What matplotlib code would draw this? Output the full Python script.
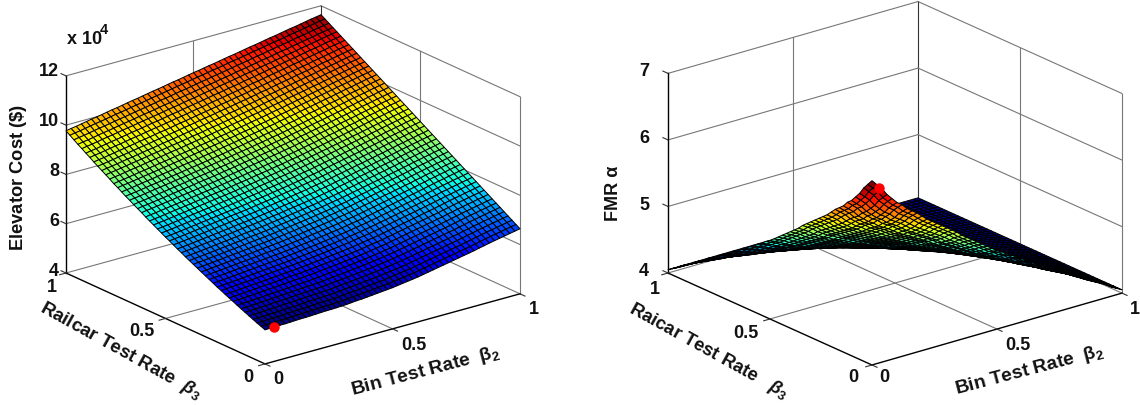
import numpy as np
import matplotlib
matplotlib.use('Agg')
import matplotlib.pyplot as plt
from mpl_toolkits.mplot3d import proj3d

# Values. Each surface is rebuilt from profiles along its mesh lines
rate_ticks = [0, 0.5, 1]
rate_tick_labels = ['0', '0.5', '1']
cost_ticks = [4, 6, 8, 10, 12]
fmr_ticks = [4, 5, 6, 7]

# mesh positions of both test rates (51 mesh lines)
bin_rate = [0.00, 0.02, 0.04, 0.06, 0.08, 0.10, 0.12, 0.14, 0.16, 0.18, 0.20, 0.22, 0.24,
            0.26, 0.28, 0.30, 0.32, 0.34, 0.36, 0.38, 0.40, 0.42, 0.44, 0.46, 0.48, 0.50,
            0.52, 0.54, 0.56, 0.58, 0.60, 0.62, 0.64, 0.66, 0.68, 0.70, 0.72, 0.74, 0.76,
            0.78, 0.80, 0.82, 0.84, 0.86, 0.88, 0.90, 0.92, 0.94, 0.96, 0.98, 1.00]
rail_rate = list(bin_rate)

# cost (x 10^4) on the four edges of the surface
cost_rail0 = [5.38, 5.39, 5.39, 5.40, 5.40, 5.41, 5.42, 5.43, 5.43, 5.44, 5.45, 5.46, 5.47,
              5.47, 5.48, 5.49, 5.50, 5.52, 5.54, 5.55, 5.57, 5.59, 5.61, 5.63, 5.65, 5.67,
              5.70, 5.73, 5.76, 5.79, 5.82, 5.86, 5.90, 5.94, 5.98, 6.02, 6.06, 6.10, 6.14,
              6.18, 6.22, 6.26, 6.31, 6.35, 6.40, 6.44, 6.48, 6.52, 6.56, 6.60, 6.64]
cost_rail1 = [9.77, 9.81, 9.84, 9.88, 9.92, 9.96, 9.99, 10.03, 10.07, 10.11, 10.14, 10.18, 10.22,
              10.26, 10.29, 10.33, 10.37, 10.41, 10.44, 10.48, 10.52, 10.56, 10.59, 10.63, 10.67,
              10.71, 10.74, 10.78, 10.82, 10.85, 10.89, 10.93, 10.97, 11.00, 11.04, 11.08, 11.12,
              11.15, 11.19, 11.23, 11.27, 11.30, 11.34, 11.38, 11.42, 11.45, 11.49, 11.53, 11.57,
              11.60, 11.64]
cost_bin0 = [5.38, 5.45, 5.51, 5.58, 5.65, 5.72, 5.79, 5.86, 5.94, 6.01, 6.08, 6.16, 6.23, 6.31,
             6.39, 6.47, 6.55, 6.63, 6.71, 6.79, 6.87, 6.96, 7.04, 7.13, 7.22, 7.30, 7.39, 7.48,
             7.57, 7.66, 7.75, 7.85, 7.94, 8.03, 8.13, 8.22, 8.32, 8.42, 8.51, 8.62, 8.72, 8.82,
             8.92, 9.02, 9.13, 9.23, 9.34, 9.44, 9.55, 9.66, 9.77]
cost_bin1 = [6.64, 6.74, 6.84, 6.94, 7.04, 7.14, 7.24, 7.34, 7.44, 7.54, 7.64, 7.74, 7.84, 7.94,
             8.04, 8.14, 8.24, 8.34, 8.44, 8.54, 8.64, 8.74, 8.84, 8.94, 9.04, 9.14, 9.24, 9.34,
             9.44, 9.54, 9.64, 9.74, 9.84, 9.94, 10.04, 10.14, 10.24, 10.34, 10.44, 10.54, 10.64,
             10.74, 10.84, 10.94, 11.04, 11.14, 11.24, 11.34, 11.44, 11.54, 11.64]

# FMR: height above the base, as a share of the peak, along each edge
fmr_base = 4.05
fmr_peak = 6.77
fmr_bin_edge = [1.00, 0.97, 0.94, 0.90, 0.87, 0.84, 0.82, 0.79, 0.77, 0.75, 0.725, 0.70, 0.68,
                0.66, 0.64, 0.62, 0.60, 0.58, 0.555, 0.535, 0.515, 0.495, 0.475, 0.455, 0.435,
                0.415, 0.40, 0.38, 0.365, 0.345, 0.33, 0.31, 0.295, 0.275, 0.26, 0.24, 0.225,
                0.21, 0.19, 0.175, 0.16, 0.145, 0.13, 0.11, 0.095, 0.08, 0.065, 0.05, 0.03,
                0.015, 0.00]
fmr_rail_edge = list(fmr_bin_edge)

# red points (bin rate, railcar rate, value)
cost_point = (0.035, 0.0, 5.39)
fmr_point = (0.03, 0.0, 6.63)

W, H = 1140, 405
plt.rcParams['font.family'] = ['Liberation Sans', 'DejaVu Sans']
plt.rcParams['font.weight'] = 'bold'
plt.rcParams['mathtext.fontset'] = 'custom'
plt.rcParams['mathtext.rm'] = 'Liberation Sans:bold'
plt.rcParams['mathtext.it'] = 'Liberation Sans:italic:bold'
plt.rcParams['mathtext.bf'] = 'Liberation Sans:bold'

fig = plt.figure(figsize=(W / 100, H / 100), dpi=100)


def px_text(x, y, s, **kw):
    kw.setdefault('ha', 'center')
    kw.setdefault('va', 'center')
    kw.setdefault('color', '#111111')
    fig.text(x / W, 1 - y / H, s, **kw)


def corner_px(ax, x, y, z):
    xp, yp, _ = proj3d.proj_transform(x, y, z, ax.get_proj())
    ax.apply_aspect()
    return ax.transData.transform((xp, yp))


def fit_axes(ax, zmin, target_left, target_right):
    # scale and move the square axes until the floor corners land on the target pixels
    size = 500
    ax.set_position([0.2, 0.2, size / W, size / H])
    a = corner_px(ax, 0, 1, zmin)
    b = corner_px(ax, 1, 0, zmin)
    size = size * (target_right[0] - target_left[0]) / (b[0] - a[0])
    ax.set_position([0.2, 0.2, size / W, size / H])
    a = corner_px(ax, 0, 1, zmin)
    x0 = 0.2 * W + target_left[0] - a[0]
    y0 = 0.2 * H + (H - target_left[1]) - a[1]
    ax.set_position([x0 / W, y0 / H, size / W, size / H])


def draw_box(ax, zlo, zhi, zticks):
    grey = '#777777'
    lw = 0.8
    z_all = [zlo, zhi]
    # back walls and grid
    ax.plot([0, 1], [1, 1], [zhi, zhi], color=grey, lw=lw, zorder=1)
    ax.plot([1, 1], [1, 0], [zhi, zhi], color=grey, lw=lw, zorder=1)
    ax.plot([1, 1], [1, 1], z_all, color='#333333', lw=lw, zorder=1)
    ax.plot([1, 1], [0, 0], z_all, color=grey, lw=lw, zorder=1)
    ax.plot([0, 1], [1, 1], [zlo, zlo], color=grey, lw=lw, zorder=1)
    ax.plot([1, 1], [1, 0], [zlo, zlo], color=grey, lw=lw, zorder=1)
    for z in zticks[1:-1]:
        ax.plot([0, 1], [1, 1], [z, z], color=grey, lw=lw, zorder=1)
        ax.plot([1, 1], [1, 0], [z, z], color=grey, lw=lw, zorder=1)
    ax.plot([0.5, 0.5], [1, 1], z_all, color=grey, lw=lw, zorder=1)
    ax.plot([1, 1], [0.5, 0.5], z_all, color=grey, lw=lw, zorder=1)
    ax.plot([0.5, 0.5], [0, 1], [zlo, zlo], color=grey, lw=lw, zorder=1)
    ax.plot([0, 1], [0.5, 0.5], [zlo, zlo], color=grey, lw=lw, zorder=1)
    # front edges
    ax.plot([0, 0], [1, 0], [zlo, zlo], color='k', lw=1.0, zorder=1.5)
    ax.plot([0, 1], [0, 0], [zlo, zlo], color='k', lw=1.0, zorder=1.5)
    ax.plot([0, 0], [1, 1], z_all, color='k', lw=1.0, zorder=1.5)
    # tick marks
    for z in zticks:
        ax.plot([0, 0], [1, 1.025], [z, z], color='#333333', lw=0.8, zorder=1.5)
    for t in rate_ticks:
        ax.plot([0, -0.025], [t, t], [zlo, zlo], color='#333333', lw=0.8, zorder=1.5)
        ax.plot([t, t], [0, -0.025], [zlo, zlo], color='#333333', lw=0.8, zorder=1.5)


def draw_surface(ax, Z, point):
    X, Y = np.meshgrid(bin_rate, rail_rate)
    colors = plt.cm.jet((Z - Z.min()) / (Z.max() - Z.min()))
    ax.plot_surface(X, Y, Z, facecolors=colors, rstride=1, cstride=1, shade=False,
                    edgecolor='black', linewidth=0.7, antialiased=True, zorder=2)
    ax.plot([point[0]], [point[1]], [point[2]], 'o', color='red', ms=6.5, mec='red', zorder=5)


def make_axes(elev, azim, aspect, zlo, zhi):
    ax = fig.add_axes([0.2, 0.2, 0.3, 0.3], projection='3d', proj_type='ortho')
    ax.computed_zorder = False
    ax.set_axis_off()
    ax.set_xlim(0, 1)
    ax.set_ylim(0, 1)
    ax.set_zlim(zlo, zhi)
    ax.set_box_aspect(aspect)
    ax.view_init(elev=elev, azim=azim)
    return ax


# left panel: surface through the four edge profiles
share_b2 = np.array(bin_rate)
share_b3 = np.array(rail_rate)
cost_z = (np.outer(1 - share_b3, cost_rail0) + np.outer(share_b3, cost_rail1)
          + np.outer(cost_bin0, 1 - share_b2) + np.outer(cost_bin1, share_b2)
          - np.outer(1 - share_b3, 1 - share_b2) * cost_rail0[0]
          - np.outer(1 - share_b3, share_b2) * cost_rail0[-1]
          - np.outer(share_b3, 1 - share_b2) * cost_rail1[0]
          - np.outer(share_b3, share_b2) * cost_rail1[-1])

ax1 = make_axes(20.75, -127.8, (323, 325, 211), 4, 12)
fit_axes(ax1, 4, (66, 273), (520, 294))
draw_box(ax1, 4, 12, cost_ticks)
draw_surface(ax1, cost_z, cost_point)

# right panel
fmr_z = fmr_base + (fmr_peak - fmr_base) * np.outer(fmr_rail_edge, fmr_bin_edge)

ax2 = make_axes(21.1, -128.6, (320, 327, 214), 4, 7)
fit_axes(ax2, 4, (668, 273), (1122, 293))
draw_box(ax2, 4, 7, fmr_ticks)
draw_surface(ax2, fmr_z, fmr_point)

# texts
tick_size = 13
for t in cost_ticks:
    px_text(59, 271 - (t - 4) * 25, str(t), ha='right', fontsize=tick_size)
for t in fmr_ticks:
    px_text(649, 272 - (t - 4) * 66.7, str(t), ha='right', fontsize=tick_size)

for lab, x, y in zip(rate_tick_labels[::-1], [52, 142, 248], [288, 332, 378]):
    px_text(x, y, lab, fontsize=tick_size)
for lab, x, y in zip(rate_tick_labels, [278, 414, 534], [379, 345, 310]):
    px_text(x, y, lab, fontsize=tick_size)
for lab, x, y in zip(rate_tick_labels[::-1], [655, 746, 853], [289, 333, 377]):
    px_text(x, y, lab, fontsize=tick_size)
for lab, x, y in zip(rate_tick_labels, [884, 1018, 1135], [378, 345, 309]):
    px_text(x, y, lab, fontsize=tick_size)

px_text(67, 39, 'x 10', ha='left', fontsize=13)
px_text(100, 30, '4', ha='left', fontsize=10.5)
px_text(18.5, 177, 'Elevator Cost ($\\mathregular{\\$}$)', rotation=90, fontsize=13.2)
px_text(613, 193, 'FMR α', rotation=90, fontsize=13)
px_text(121, 351, r'Railcar Test Rate  $\beta_3$', rotation=-29, fontsize=13.4)
px_text(426, 371, r'Bin Test Rate  $\mathregular{β_2}$', rotation=14.7, fontsize=13.8)
px_text(709, 351, r'Raicar Test Rate   $\beta_3$', rotation=-29, fontsize=13.2)
px_text(1030, 370, r'Bin Test Rate  $\mathregular{β_2}$', rotation=14.7, fontsize=13.8)

fig.savefig('out.png', dpi=100)
